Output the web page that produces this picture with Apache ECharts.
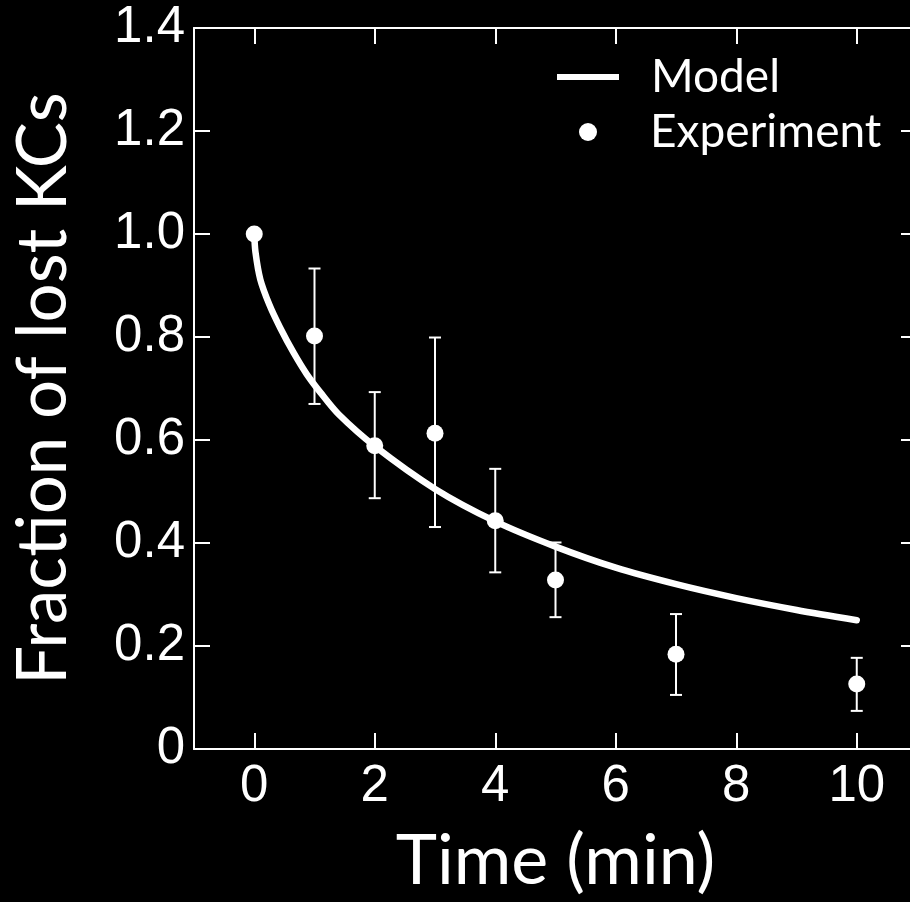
<!DOCTYPE html>
<html>
<head>
<meta charset="utf-8">
<script src="https://cdn.jsdelivr.net/npm/echarts@6/dist/echarts.min.js"></script>
<style>
html,body{margin:0;padding:0;background:#000;}
#chart{width:910px;height:902px;}
</style>
</head>
<body>
<div id="chart"></div>
<script>
// ---- data ----
const expTime = [0, 1, 2, 3, 4, 5, 7, 10];
const expValue = [1.0, 0.802, 0.589, 0.613, 0.443, 0.328, 0.184, 0.126];
const expLow = [1.0, 0.670, 0.487, 0.431, 0.343, 0.256, 0.105, 0.074];
const expHigh = [1.0, 0.933, 0.693, 0.799, 0.544, 0.401, 0.262, 0.177];

const modelTime = [0, 0.02, 0.1, 0.25, 0.43, 0.65, 0.87, 1.1, 1.4, 2, 3, 4, 5, 6, 7, 8, 9, 10];
const modelValue = [1.0, 0.965, 0.912, 0.863, 0.818, 0.770, 0.728, 0.692, 0.650, 0.588, 0.505, 0.442, 0.393, 0.352, 0.320, 0.293, 0.270, 0.250];

const xTickValues = [0, 2, 4, 6, 8, 10];
const yTickValues = [0, 0.2, 0.4, 0.6, 0.8, 1.0, 1.2, 1.4];

const titleFont = 'Lato';
const tickFont = 'Liberation Sans';

const chart = echarts.init(document.getElementById('chart'));

const modelData = modelTime.map((t, i) => [t, modelValue[i]]);
const expData = expTime.map((t, i) => [t, expValue[i]]);
const errData = expTime.map((t, i) => [t, expLow[i], expHigh[i]]);

const axisLineStyle = { color: '#fff', width: 2 };

chart.setOption({
  backgroundColor: '#000',
  animation: false,
  grid: { left: 194, top: 28, width: 723, height: 721, containLabel: false, outerBoundsMode: 'none' },
  legend: [
    {
      data: [{ name: 'Model', icon: 'rect', itemStyle: { color: '#fff', opacity: 1 } }],
      left: 552, top: 49,
      itemWidth: 62, itemHeight: 6,
      textStyle: { color: '#fff', fontFamily: titleFont, fontSize: 46, lineHeight: 46, padding: [0, 0, 0, 27] },
      selectedMode: false
    },
    {
      data: [{ name: 'Experiment', icon: 'circle', itemStyle: { color: '#fff', opacity: 1 } }],
      left: 574, top: 104,
      itemWidth: 62, itemHeight: 18,
      textStyle: { color: '#fff', fontFamily: titleFont, fontSize: 46, lineHeight: 46, padding: [0, 0, 0, 26] },
      selectedMode: false
    }
  ],
  xAxis: [
    {
      type: 'value', min: -1, max: 11, position: 'bottom',
      name: 'Time (min)', nameLocation: 'middle', nameGap: 77,
      nameTextStyle: { color: '#fff', fontFamily: titleFont, fontSize: 70 },
      axisLine: { show: true, onZero: false, lineStyle: axisLineStyle },
      axisTick: { show: true, inside: true, length: 16, customValues: xTickValues, lineStyle: axisLineStyle },
      axisLabel: { show: true, customValues: xTickValues, color: '#fff', fontFamily: tickFont, fontSize: 51, margin: 12 },
      splitLine: { show: false }
    },
    {
      type: 'value', min: -1, max: 11, position: 'top',
      axisLine: { show: true, onZero: false, lineStyle: axisLineStyle },
      axisTick: { show: true, inside: true, length: 16, customValues: xTickValues, lineStyle: axisLineStyle },
      axisLabel: { show: false },
      splitLine: { show: false }
    }
  ],
  yAxis: [
    {
      type: 'value', min: 0, max: 1.4, interval: 0.2, position: 'left',
      name: 'Fraction of lost KCs', nameLocation: 'middle', nameGap: 116, nameRotate: 90,
      nameTextStyle: { color: '#fff', fontFamily: titleFont, fontSize: 69 },
      axisLine: { show: true, onZero: false, lineStyle: axisLineStyle },
      axisTick: { show: true, inside: true, length: 16, lineStyle: axisLineStyle },
      axisLabel: {
        show: true, color: '#fff', fontFamily: tickFont, fontSize: 51, margin: 9,
        formatter: v => (Math.abs(v) < 1e-9 ? '0' : v.toFixed(1))
      },
      splitLine: { show: false }
    },
    {
      type: 'value', min: 0, max: 1.4, interval: 0.2, position: 'right',
      axisLine: { show: true, onZero: false, lineStyle: axisLineStyle },
      axisTick: { show: true, inside: true, length: 16, lineStyle: axisLineStyle },
      axisLabel: { show: false },
      splitLine: { show: false }
    }
  ],
  series: [
    {
      name: 'Model', type: 'line', data: modelData, smooth: 0.3,
      showSymbol: false, symbol: 'none',
      itemStyle: { color: '#fff' },
      lineStyle: { color: '#fff', width: 6.5, cap: 'round', join: 'round' },
      z: 2
    },
    {
      name: 'errorbars', type: 'custom', data: errData,
      renderItem: function (params, api) {
        const x = api.value(0);
        const lo = api.coord([x, api.value(1)]);
        const hi = api.coord([x, api.value(2)]);
        const half = 6;
        const style = { stroke: '#fff', lineWidth: 2 };
        return {
          type: 'group',
          children: [
            { type: 'line', shape: { x1: lo[0], y1: lo[1], x2: hi[0], y2: hi[1] }, style },
            { type: 'line', shape: { x1: lo[0] - half, y1: lo[1], x2: lo[0] + half, y2: lo[1] }, style },
            { type: 'line', shape: { x1: hi[0] - half, y1: hi[1], x2: hi[0] + half, y2: hi[1] }, style }
          ]
        };
      },
      z: 3
    },
    {
      name: 'Experiment', type: 'scatter', data: expData,
      symbol: 'circle', symbolSize: 17,
      itemStyle: { color: '#fff', opacity: 1 },
      z: 4
    }
  ]
});
</script>
</body>
</html>
